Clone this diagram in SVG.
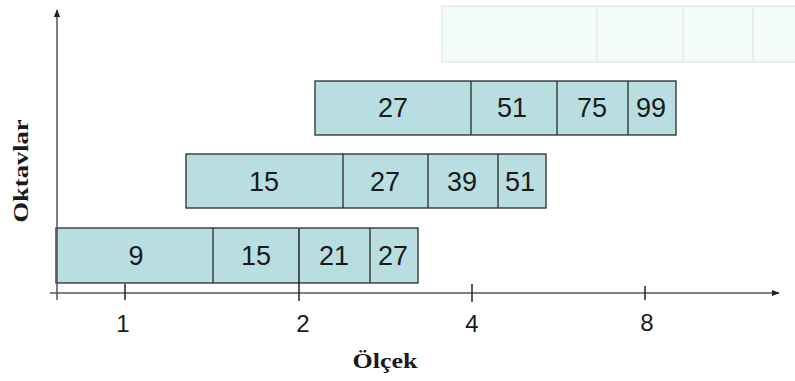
<svg xmlns="http://www.w3.org/2000/svg" width="795" height="381" viewBox="0 0 795 381">
<style>
.cell{fill:#b9dee1;stroke:#2a2a2a;stroke-width:1.3}
.faded{fill:#f4fbfb;stroke:#e2e6e7;stroke-width:1.3}
.num{font-family:"Liberation Sans",Arial,sans-serif;font-size:27px;fill:#1a1a1a;text-anchor:middle}
.axis{stroke:#555;stroke-width:1.5;fill:none}
.tick{stroke:#222;stroke-width:1.5}
.tl{font-family:"Liberation Sans",Arial,sans-serif;font-size:24px;fill:#1a1a1a;text-anchor:middle}
.lbl{font-family:"Liberation Serif","Times New Roman",serif;font-size:22px;font-weight:bold;fill:#1a1a1a;text-anchor:middle}
</style>
<defs>
<marker id="ah" viewBox="0 0 10 10" refX="9" refY="5" markerWidth="8" markerHeight="8" markerUnits="userSpaceOnUse" orient="auto">
<path d="M0,1 L10,5 L0,9 Z" fill="#222"/>
</marker>
</defs>
<g id="row4">
<rect class="faded" x="442" y="6" width="360" height="56"/>
<line class="faded" x1="597" y1="6" x2="597" y2="62"/>
<line class="faded" x1="683" y1="6" x2="683" y2="62"/>
<line class="faded" x1="753" y1="6" x2="753" y2="62"/>
</g>
<g id="row3">
<rect class="cell" x="315" y="81" width="361" height="54"/>
<line class="cell" x1="471" y1="81" x2="471" y2="135"/>
<line class="cell" x1="557" y1="81" x2="557" y2="135"/>
<line class="cell" x1="628" y1="81" x2="628" y2="135"/>
<text class="num" x="393" y="117">27</text>
<text class="num" x="512" y="117">51</text>
<text class="num" x="592" y="117">75</text>
<text class="num" x="651" y="117">99</text>
</g>
<g id="row2">
<rect class="cell" x="186" y="154" width="360" height="54"/>
<line class="cell" x1="343" y1="154" x2="343" y2="208"/>
<line class="cell" x1="428" y1="154" x2="428" y2="208"/>
<line class="cell" x1="498" y1="154" x2="498" y2="208"/>
<text class="num" x="264" y="191">15</text>
<text class="num" x="385" y="191">27</text>
<text class="num" x="462" y="191">39</text>
<text class="num" x="520" y="191">51</text>
</g>
<g id="row1">
<rect class="cell" x="56" y="228" width="362" height="55"/>
<line class="cell" x1="213" y1="228" x2="213" y2="283"/>
<line class="cell" x1="370" y1="228" x2="370" y2="283"/>
<text class="num" x="136" y="265">9</text>
<text class="num" x="256" y="265">15</text>
<text class="num" x="334" y="265">21</text>
<text class="num" x="393" y="265">27</text>
</g>
<g id="connectors">
<line class="axis" x1="57" y1="300" x2="57" y2="10" marker-end="url(#ah)"/>
<line class="axis" x1="50" y1="293" x2="779" y2="293" marker-end="url(#ah)"/>
<line class="tick" x1="125" y1="284" x2="125" y2="300"/>
<line class="tick" x1="299" y1="229" x2="299" y2="301"/>
<line class="tick" x1="472" y1="284" x2="472" y2="302"/>
<line class="tick" x1="645" y1="286" x2="645" y2="300"/>
</g>
<g id="labels">
<text class="tl" x="123" y="332">1</text>
<text class="tl" x="303" y="332">2</text>
<text class="tl" x="472" y="332">4</text>
<text class="tl" x="647" y="331">8</text>
<text class="lbl" x="385" y="368" textLength="65" lengthAdjust="spacingAndGlyphs">Ölçek</text>
<text class="lbl" transform="translate(28,171) rotate(-90)" textLength="103" lengthAdjust="spacingAndGlyphs">Oktavlar</text>
</g>
</svg>
